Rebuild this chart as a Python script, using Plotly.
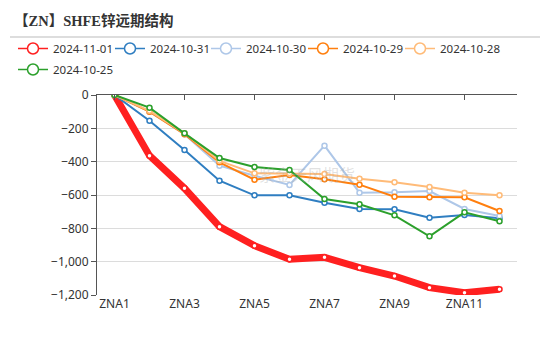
import plotly.graph_objects as go

categories = [f"ZNA{i}" for i in range(1, 13)]
tick_labels = ["ZNA1", "ZNA3", "ZNA5", "ZNA7", "ZNA9", "ZNA11"]

s_1101 = [0, -364, -560, -790, -904, -986, -974, -1036, -1086, -1156, -1186, -1166]
s_1031 = [0, -154, -330, -514, -602, -602, -646, -684, -686, -736, -720, -740]
s_1030 = [0, -100, -235, -424, -484, -540, -304, -586, -584, -576, -684, -726]
s_1029 = [0, -100, -235, -404, -508, -480, -506, -538, -610, -614, -614, -696]
s_1028 = [0, -95, -230, -395, -470, -470, -474, -502, -524, -552, -586, -602]
s_1025 = [0, -76, -230, -378, -432, -450, -624, -656, -722, -848, -704, -758]

series = [
    ("2024-11-01", s_1101, "#ff2020", 7),
    ("2024-10-31", s_1031, "#2f7ec1", 2),
    ("2024-10-30", s_1030, "#aec7e8", 2),
    ("2024-10-29", s_1029, "#ff7f0e", 2),
    ("2024-10-28", s_1028, "#ffbb78", 2),
    ("2024-10-25", s_1025, "#2ca02c", 2),
]

W, H = 550, 352
L, R, T, B = 97, 33, 95, 57
pw, ph = W - L - R, H - T - B

# legend placement (pixels from left / top of the page)
legend_px = [(13, 34), (110, 34), (206, 34), (303, 34), (400, 34), (13, 55)]

fig = go.Figure()
for name, vals, color, w in series:
    fig.add_trace(go.Scatter(
        x=categories, y=vals, name=name, mode="lines+markers",
        line=dict(color=color, width=w), showlegend=False, legendgroup=name,
        marker=dict(symbol="circle", size=5, color="white",
                    line=dict(color=color, width=1.5)),
    ))

legend_layout = {}
for i, (name, vals, color, w) in enumerate(series):
    lname = "legend" if i == 0 else f"legend{i + 1}"
    fig.add_trace(go.Scatter(
        x=[None], y=[None], name=name, mode="lines+markers", legendgroup=name,
        legend=lname, showlegend=True,
        line=dict(color=color, width=1.5),
        marker=dict(symbol="circle", size=11, color="white",
                    line=dict(color=color, width=1.5)),
    ))
    px, py = legend_px[i]
    legend_layout[lname] = dict(
        orientation="h", x=(px - L) / pw, xanchor="left",
        y=1 + (T - py) / ph, yanchor="top", itemwidth=30,
        font=dict(family="Noto Sans, sans-serif", size=11.5, color="#333"),
        bgcolor="rgba(0,0,0,0)")

# invisible trace for top axis ticks
fig.add_trace(go.Scatter(x=categories, y=[None]*12, xaxis="x2", showlegend=False,
                         hoverinfo="skip"))

fig.update_layout(
    width=W, height=H,
    margin=dict(l=L, r=R, t=T, b=B),
    plot_bgcolor="white", paper_bgcolor="white",
    font=dict(family="Noto Sans, Noto Sans CJK SC, sans-serif", size=12, color="#333"),
    showlegend=True,
    xaxis=dict(type="category", range=[-0.5, 11.5], tickvals=tick_labels,
               showgrid=False, showline=False, ticks="", zeroline=False,
               tickfont=dict(size=12, color="#333")),
    xaxis2=dict(type="category", range=[-0.5, 11.5], overlaying="x", side="top",
                tickvals=tick_labels, showticklabels=False, showline=True,
                linecolor="#555", linewidth=1, ticks="inside", ticklen=5,
                tickcolor="#555", showgrid=False),
    yaxis=dict(range=[-1200, 0], tickvals=[0, -200, -400, -600, -800, -1000, -1200],
               tickformat=",", showgrid=True, gridcolor="#dcdcdc", gridwidth=1,
               zeroline=False, showline=True, linecolor="#555", linewidth=1,
               ticks="outside", ticklen=5, tickcolor="#555",
               tickfont=dict(size=12, color="#333")),
    **legend_layout,
)

fig.add_annotation(text="<b>【ZN】SHFE锌远期结构</b>", xref="paper", yref="paper",
                   x=(12 - L) / pw, y=1 + (T - 21) / ph, xanchor="left", yanchor="middle",
                   showarrow=False,
                   font=dict(family="Liberation Serif, Noto Sans CJK SC, serif", size=14.5, color="#333"))
fig.add_shape(type="line", xref="paper", yref="paper",
              x0=(10 - L) / pw, x1=(540 - L) / pw,
              y0=1 + (T - 37) / ph, y1=1 + (T - 37) / ph,
              line=dict(color="#bbbbbb", width=1))
fig.add_annotation(text="紫金天风期货", xref="paper", yref="paper", x=0.5, y=0.6,
                   showarrow=False, font=dict(size=16, color="rgba(170,170,170,0.35)"))

fig.write_html("out.html")
